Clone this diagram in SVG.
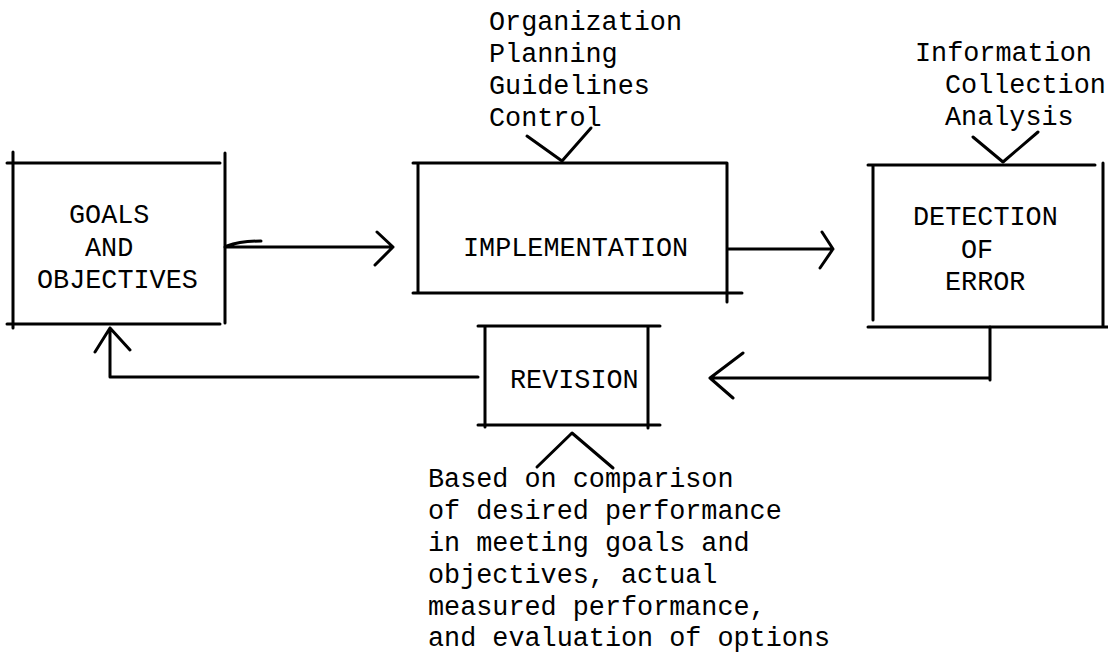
<svg xmlns="http://www.w3.org/2000/svg" width="1108" height="654" viewBox="0 0 1108 654">
<style>
.ln{stroke:#000;stroke-width:3;fill:none;stroke-linecap:round;stroke-linejoin:round}
.t{font-family:"Liberation Mono","DejaVu Sans Mono",monospace;font-size:26.8px;fill:#000}
</style>
<rect width="1108" height="654" fill="#fff"/>
<g id="goals">
<path class="ln" d="M7 163H220M7 324H220M13 152V328M225 153V323"/>
<text class="t" x="69" y="223">GOALS</text>
<text class="t" x="85" y="256">AND</text>
<text class="t" x="37" y="288">OBJECTIVES</text>
</g>
<g id="implementation">
<path class="ln" d="M413 163H727M413 293H742M418 163V293M727 163V302"/>
<text class="t" x="463" y="256">IMPLEMENTATION</text>
<g id="impl-inputs">
<text class="t" x="489" y="30">Organization</text>
<text class="t" x="489" y="62">Planning</text>
<text class="t" x="489" y="94">Guidelines</text>
<text class="t" x="489" y="126">Control</text>
</g>
</g>
<g id="detection">
<path class="ln" d="M868 165H1095M868 327H1108M873 165V320M1103 163V327"/>
<text class="t" x="913" y="225">DETECTION</text>
<text class="t" x="961" y="258">OF</text>
<text class="t" x="945" y="290">ERROR</text>
<g id="detect-inputs">
<text class="t" x="915" y="61">Information</text>
<text class="t" x="945" y="93">Collection</text>
<text class="t" x="945" y="125">Analysis</text>
</g>
</g>
<g id="revision">
<path class="ln" d="M478 326H660M478 425H660M485 326V427M648 327V428"/>
<text class="t" x="510" y="388">REVISION</text>
<g id="revision-basis">
<text class="t" x="428" y="487">Based on comparison</text>
<text class="t" x="428" y="519">of desired performance</text>
<text class="t" x="428" y="551">in meeting goals and</text>
<text class="t" x="428" y="583">objectives, actual</text>
<text class="t" x="428" y="615">measured performance,</text>
<text class="t" x="428" y="646">and evaluation of options</text>
</g>
</g>
<g id="connectors">
<path class="ln" d="M225 247H393M377 232L393 247L375 265M227 246Q240 241 261 241"/>
<path class="ln" d="M728 249H833M822 232L833 249L820 268"/>
<path class="ln" d="M990 327V380M990 378H710M743 353L710 378L733 398"/>
<path class="ln" d="M478 377H110V328M95 352L110 328L130 350"/>
<path class="ln" d="M527 136L562 161L591 128"/>
<path class="ln" d="M973 137L1003 162L1038 132"/>
<path class="ln" d="M537 467L572 433L613 468"/>
</g>
</svg>
